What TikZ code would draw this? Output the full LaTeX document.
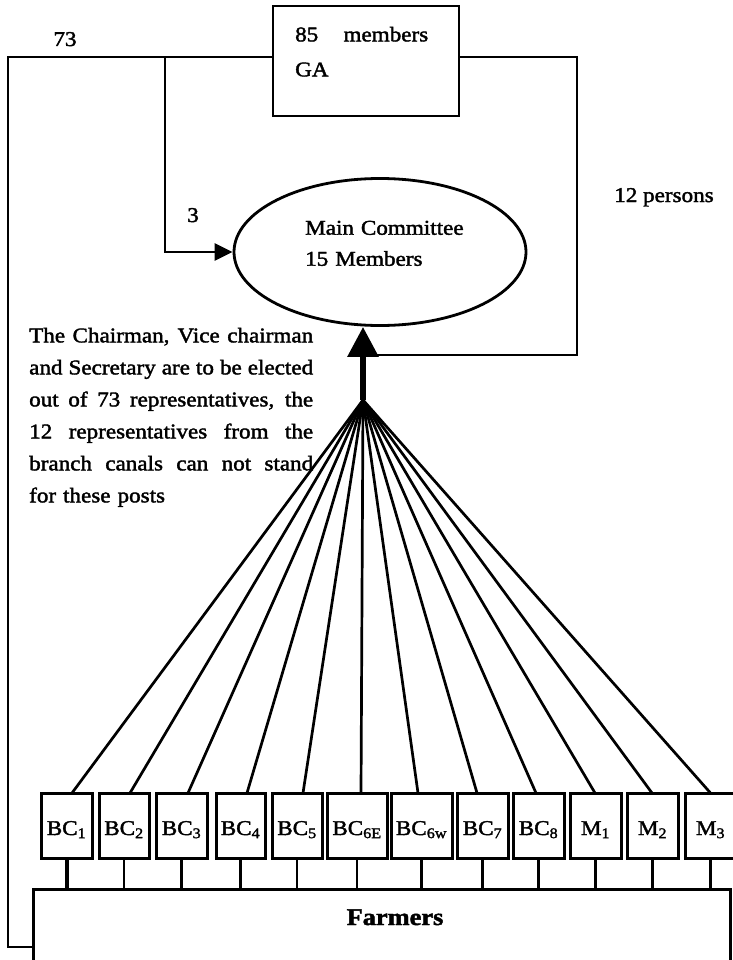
\documentclass[tikz,border=0pt]{standalone}
\usepackage{fontspec}
\setmainfont{Liberation Serif}[FakeStretch=1.1, FakeBold=1.8]
\usetikzlibrary{arrows.meta,calc,shapes.geometric}
\setlength{\parindent}{0pt}
% a line whose spaces are stretched to fill the given width
\newcommand\spreadline[2]{\makebox[#1][s]{\spaceskip=0.25em plus 1fil\relax #2}}
\tikzset{
  x=1pt, y=1pt,
  wire/.style={line width=2.7pt},
  fanline/.style={line width=2.7pt},
  unitbox/.style={draw, line width=3pt, inner sep=0pt, minimum height=65pt,
    fill=white, text height=19pt, text depth=0pt},
  txt/.style={inner sep=0pt, font=\fontsize{21}{24}\selectfont},
}
\begin{document}
\begin{tikzpicture}
\useasboundingbox (0,0) rectangle (732,-960);
\fill[white] (0,0) rectangle (732,-960);

% General assembly and main committee
\node[draw, line width=2.7pt, minimum width=186pt, minimum height=110pt, inner sep=0pt] (ga) at (366,-61) {};
\node[txt, anchor=north west, text width=133pt, align=left, font=\fontsize{21}{35}\selectfont] (gatext) at (295,-26.6)
  {\spreadline{133pt}{85 members}\\GA};
\node[ellipse, draw, line width=2.8pt, minimum width=292pt, minimum height=147pt, inner sep=0pt] (mc) at (380,-252) {};
\node[txt, anchor=north west, text width=170pt, align=left, font=\fontsize{21}{31}\selectfont] (mctext) at (305,-220.6)
  {Main Committee\\15 Members};

% Farmers
\node[draw, line width=3pt, minimum width=697pt, minimum height=80pt, inner sep=0pt, anchor=north west] (farmers) at (32,-888) {};
\node[txt, font=\fontsize{24}{28}\selectfont\bfseries, anchor=base] (farmerstext) at (395,-925) {Farmers};

% Note on the office holders
\node[txt, anchor=north west, text width=284pt, align=left, font=\fontsize{21}{32}\selectfont] (note) at (29,-327.6)
  {\spreadline{284pt}{The Chairman, Vice chairman}\\
   \spreadline{284pt}{and Secretary are to be elected}\\
   \spreadline{284pt}{out of 73 representatives, the}\\
   \spreadline{284pt}{12 representatives from the}\\
   \spreadline{284pt}{branch canals can not stand}\\
   for these posts};

% Representation links
\coordinate (gaL) at ([yshift=4pt]ga.west);
\coordinate (gaR) at ([yshift=4pt]ga.east);
\coordinate (split) at (165,-57);
\coordinate (lturn) at (8,-947);
\coordinate (rturn) at (577,-355);
\coordinate (apex) at (363,-400);

\draw[wire] (gaL) -| (lturn) -- (lturn -| farmers.west);
\draw[wire, -{Triangle[length=18pt,width=17pt]}] (split) |- (mc.west);
\draw[wire] (gaR) -| (rturn) -- (rturn -| apex);
\draw[line width=6pt, -{Triangle[length=30pt,width=30pt]}] (apex) -- (apex |- mc.south);

\node[txt, anchor=base] (n73) at (65,-46) {73};
\node[txt, anchor=base] (n3) at (193,-222) {3};
\node[txt, anchor=base] (n12) at (664,-202) {12 persons};

% Branch canal and minor canal units
\foreach \n/\l/\r/\t/\s/\w in {
  bca/41/92/BC\textsubscript{1}/5.5/4,
  bcb/99/149/BC\textsubscript{2}/6/2.4,
  bcc/156/207/BC\textsubscript{3}/6.5/2.4,
  bcd/216/265/BC\textsubscript{4}/6.5/2.4,
  bce/272/322/BC\textsubscript{5}/6/2.4,
  bcf/327/387/BC\textsubscript{6E}/4/2.4,
  bcg/391/452/BC\textsubscript{6w}/-3.5/2.4,
  bch/457/508/BC\textsubscript{7}/-5.5/2.4,
  bci/513/564/BC\textsubscript{8}/-2.5/2.4,
  mca/570/621/M\textsubscript{1}/-0.5/2.4,
  mcb/627/678/M\textsubscript{2}/-0.5/2.4,
  mcc/685/736/M\textsubscript{3}/0/2.4}{
  \draw[fanline] (apex) -- ($({(\l+\r)/2},-793)+(\s,0)$);
  \node[unitbox, txt, minimum width={(\r-\l)*1pt}, text height=19pt, text depth=0pt] (\n) at ({(\l+\r)/2},-825.5) {\t};
  \draw[line width=\w pt] (\n.south) -- (\n.south |- farmers.north);
}
\end{tikzpicture}
\end{document}
